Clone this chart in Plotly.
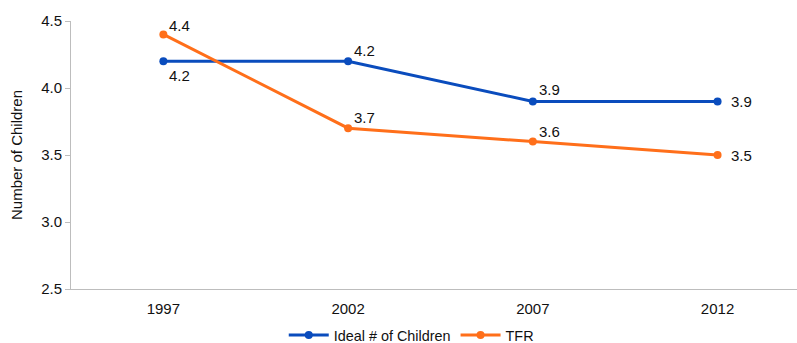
import plotly.graph_objects as go

years = ["1997", "2002", "2007", "2012"]
ideal_children = [4.2, 4.2, 3.9, 3.9]
tfr = [4.4, 3.7, 3.6, 3.5]

# label offsets (px) for each point's value label
ideal_shift = [(4, -14), (4, 11), (4, 12), (11, 0)]
tfr_shift = [(4, 9), (4, 11), (4, 10), (11, 0)]

blue = "#0a4cbd"
orange = "#ff6f1a"
font = "Liberation Sans, Arial, sans-serif"
text_color = "#111111"
fs = 15

fig = go.Figure()
fig.add_trace(go.Scatter(
    x=years, y=ideal_children, name="Ideal # of Children",
    mode="lines+markers",
    line=dict(color=blue, width=3), marker=dict(size=8, color=blue),
    cliponaxis=False,
))
fig.add_trace(go.Scatter(
    x=years, y=tfr, name="TFR",
    mode="lines+markers",
    line=dict(color=orange, width=3), marker=dict(size=8, color=orange),
    cliponaxis=False,
))

# value labels; category positions given by index
for series, shifts in ((ideal_children, ideal_shift), (tfr, tfr_shift)):
    for i, (v, (dx, dy)) in enumerate(zip(series, shifts)):
        fig.add_annotation(
            x=i, y=v, xref="x", yref="y", text=f"{v:.1f}", showarrow=False,
            xanchor="left", yanchor="middle", xshift=dx, yshift=dy,
            font=dict(size=fs, color=text_color, family=font),
        )

fig.update_layout(
    width=797, height=343,
    margin=dict(l=71, r=0, t=21, b=54),
    paper_bgcolor="white", plot_bgcolor="white",
    font=dict(family=font, size=fs, color=text_color),
    showlegend=True,
    legend=dict(orientation="h", x=0.516, xanchor="center", xref="container",
                y=0.023, yanchor="middle", yref="container",
                font=dict(size=14.4), itemwidth=40),
    xaxis=dict(type="category", range=[-0.5, 3.43], showgrid=False,
               showline=True, linecolor="#bdbdbd", linewidth=1, ticks="",
               ticklabelstandoff=6, tickfont=dict(size=fs)),
    yaxis=dict(range=[2.5, 4.5], dtick=0.5, tickformat=".1f", showgrid=False,
               showline=True, linecolor="#bdbdbd", linewidth=1,
               ticks="outside", tickcolor="#bdbdbd", ticklen=5,
               zeroline=False, tickfont=dict(size=fs),
               title=dict(text="Number of Children", font=dict(size=fs), standoff=14)),
)

fig.write_html("out.html")
